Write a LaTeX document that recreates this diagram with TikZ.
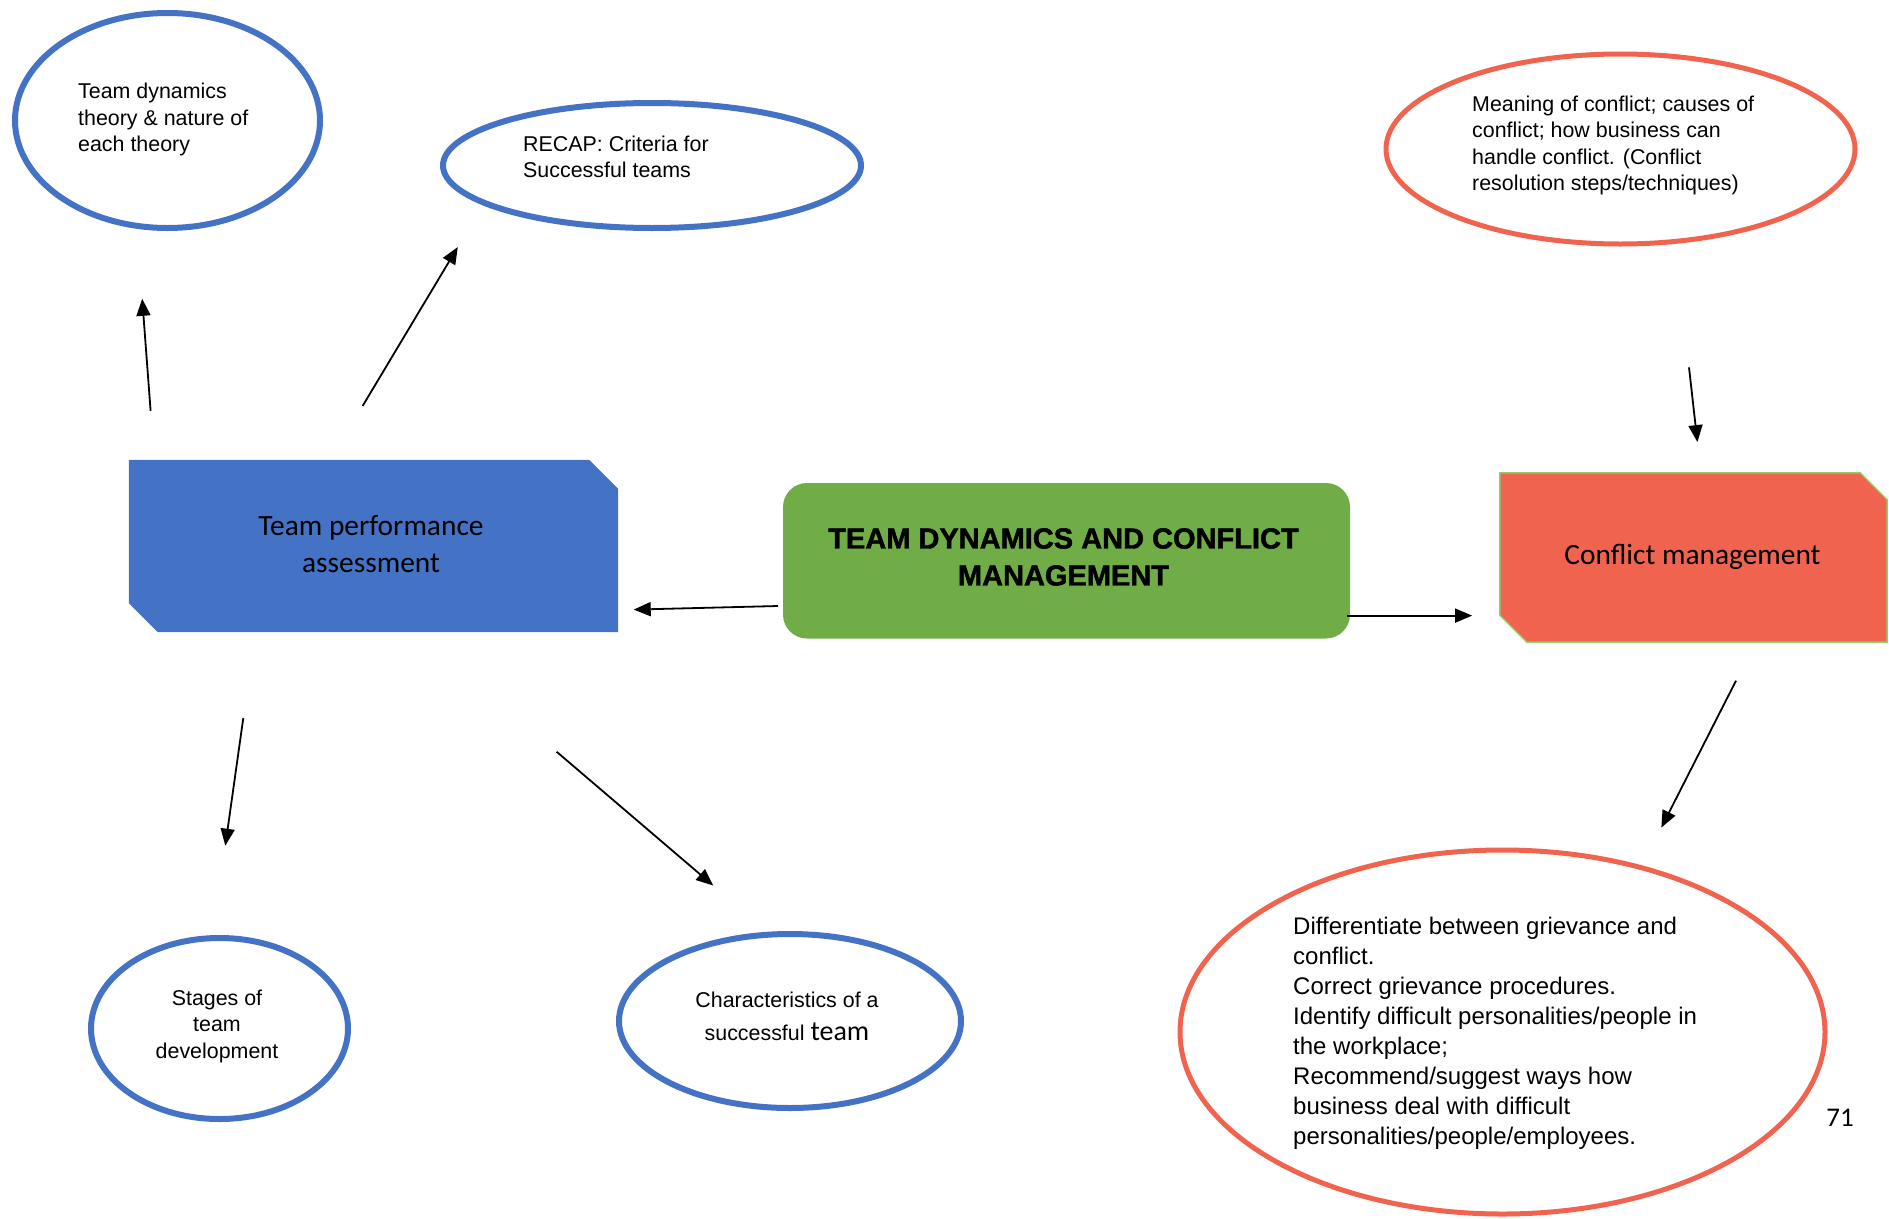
\documentclass[tikz,border=0pt]{standalone}
\usepackage{fontspec}
\setmainfont{Liberation Sans}
\newfontfamily\calib{Carlito}
\newfontfamily\heavyfont[FakeBold=1.6]{Liberation Sans Bold}
\usetikzlibrary{shapes.geometric,arrows.meta,backgrounds}
\definecolor{bluec}{HTML}{4472C4}
\definecolor{greenc}{HTML}{70AD47}
\definecolor{redc}{HTML}{F0644F}
\definecolor{lgreen}{HTML}{8FCB6B}
\begin{document}
\begin{tikzpicture}[x=1pt,y=-1pt,
  blueell/.style={ellipse, draw=bluec, line width=6pt, inner sep=0pt},
  redell/.style={ellipse, draw=redc, line width=5pt, inner sep=0pt},
  txt/.style={inner sep=0pt, align=left, font=\fontsize{21.4}{26.5}\selectfont},
  ctxt/.style={inner sep=0pt, align=center, font=\fontsize{21.4}{26.5}\selectfont},
  boxtxt/.style={inner sep=0pt, align=center, font=\calib\fontsize{29.4}{37}\selectfont},
  arr/.style={line width=1.8pt, -{Triangle[length=17pt,width=14pt]}}
]
\useasboundingbox (0,0) rectangle (1889,1218);

% ellipses
\node[blueell, minimum width=305pt, minimum height=215pt] (e1) at (167.5,120.5) {};
\node[txt, anchor=west] (t1) at (78,119.5) {Team dynamics\\theory \& nature of\\each theory};

\node[blueell, minimum width=418pt, minimum height=125pt] (e2) at (652,165.5) {};
\node[txt, anchor=west] (t2) at (523,156.8) {RECAP: Criteria for\\Successful teams};

\node[redell, minimum width=469pt, minimum height=190pt] (e3) at (1620.5,149) {};
\node[txt, anchor=west] (t3) at (1472,145.7) {Meaning of conflict; causes of\\conflict; how business can\\handle conflict. (Conflict\\resolution steps/techniques)};

\node[blueell, minimum width=257pt, minimum height=181pt] (e4) at (219.5,1028.5) {};
\node[ctxt] (t4) at (217,1026.4) {Stages of\\team\\development};

\node[blueell, minimum width=342pt, minimum height=174pt] (e5) at (790,1021) {};
\node[inner sep=0pt, align=center, font=\fontsize{21.4}{32.5}\selectfont] (t5) at (787,1016.5) {Characteristics of a\\successful {\calib\fontsize{28}{32.5}\selectfont team}};

\node[redell, minimum width=645pt, minimum height=364pt] (e6) at (1502.5,1032) {};
\node[inner sep=0pt, align=left, font=\fontsize{24}{30}\selectfont, anchor=west] (t6) at (1293,1033.6)
 {Differentiate between grievance and\\conflict.\\Correct grievance procedures.\\Identify difficult personalities/people in\\the workplace;\\Recommend/suggest ways how\\business deal with difficult\\personalities/people/employees.};

% boxes
\node[minimum width=489pt, minimum height=172pt, inner sep=0pt] (tpa) at (373.5,546) {};
\node[boxtxt] (tpat) at (371,543.8) {Team performance\\assessment};
\node[minimum width=387pt, minimum height=169pt, inner sep=0pt] (cm) at (1693.5,557.5) {};
\node[boxtxt] (cmt) at (1692.5,556.5) {Conflict management};
\begin{scope}[on background layer]
\fill[bluec] (tpa.north west) -- ([xshift=-29pt]tpa.north east) -- ([yshift=-29pt]tpa.north east)
  -- (tpa.south east) -- ([xshift=29pt]tpa.south west) -- ([yshift=29pt]tpa.south west) -- cycle;
\filldraw[fill=redc, draw=lgreen, line width=1.5pt] (cm.north west) -- ([xshift=-27pt]cm.north east) -- ([yshift=-27pt]cm.north east)
  -- (cm.south east) -- ([xshift=27pt]cm.south west) -- ([yshift=27pt]cm.south west) -- cycle;
\end{scope}

\node[fill=greenc, rounded corners=24pt, minimum width=567pt, minimum height=155.5pt, inner sep=0pt] (main) at (1066.5,560.75) {};
\node[inner sep=0pt, align=center, font=\heavyfont\fontsize{29}{37}\selectfont] (maint) at (1063.5,557)
  {TEAM DYNAMICS AND CONFLICT\\MANAGEMENT};

\node[inner sep=0pt, font=\calib\fontsize{27}{32}\selectfont] (pg) at (1840,1118) {71};

% arrow end points
\coordinate (a1s) at (150.6,410.8); \coordinate (a1e) at (142.2,298.8);
\coordinate (a2s) at (362.6,406);   \coordinate (a2e) at (457.8,247);
\coordinate (a3s) at (778.2,606);   \coordinate (a3e) at (633.7,609.6);
\coordinate (a4s) at (1346.9,615.6); \coordinate (a4e) at (1472.1,615.6);
\coordinate (a5s) at (1689,367.4);  \coordinate (a5e) at (1697.4,442.1);
\coordinate (a6s) at (1736,680.7);  \coordinate (a6e) at (1661.3,827.6);
\coordinate (a7s) at (243.3,718);   \coordinate (a7e) at (225.3,845.7);
\coordinate (a8s) at (556.6,751.7); \coordinate (a8e) at (713.2,885.5);

\draw[arr] (a1s) -- (a1e);
\draw[arr] (a2s) -- (a2e);
\draw[arr] (a3s) -- (a3e);
\draw[arr] (a4s) -- (a4e);
\draw[arr] (a5s) -- (a5e);
\draw[arr] (a6s) -- (a6e);
\draw[arr] (a7s) -- (a7e);
\draw[arr] (a8s) -- (a8e);
\end{tikzpicture}
\end{document}
